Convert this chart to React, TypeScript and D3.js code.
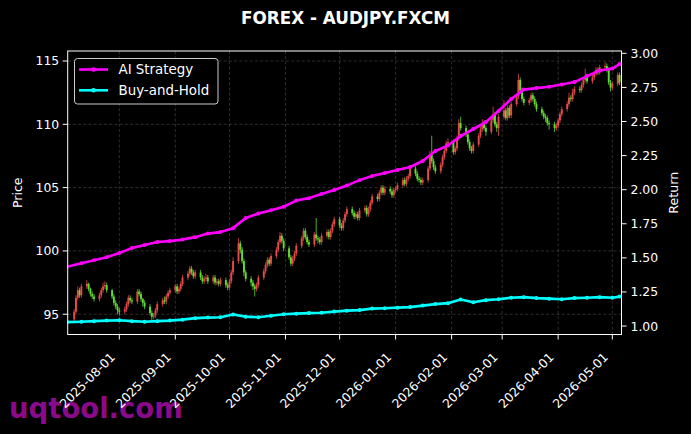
import React from 'react';
import * as d3 from 'd3';

const W = 691;
const H = 434;
const PLOT = { left: 67.7, right: 621.5, top: 51, bottom: 334.5 };

const TITLE = 'FOREX - AUDJPY.FXCM';
const WATERMARK = 'uqtool.com';

// trading days (weekdays) of the candles
const candleStart = '2025-07-07';
const candleEnd = '2026-05-05';
const firstOpen = 94.6;

const closes = [
  95.2, 96.3, 96.9, 96.5, 97.2, 97.4, 97.0, 96.6, 96.4,
  96.2, 96.5, 96.9, 97.2, 97.3, 96.9, 96.4, 95.9, 95.6, 95.3,
  95.2, 95.4, 95.8, 96.3, 96.1, 96.0, 96.8, 96.6, 96.2, 95.9,
  95.6, 95.1, 94.8, 94.9, 95.3, 95.8, 96.1, 96.0, 96.4, 96.7,
  96.9, 97.2, 96.8, 97.0, 97.4, 97.9, 98.2, 98.6, 98.3, 98.0,
  98.3, 97.9, 97.6, 97.8, 97.9, 97.6, 97.9, 97.5, 97.6, 97.4,
  97.7, 97.3, 97.1, 97.6, 98.3, 99.2, 100.6, 100.1, 99.2, 98.3,
  97.8, 97.5, 97.2, 97.0, 97.3, 97.9, 98.4, 98.9, 99.3, 99.0,
  99.6, 100.1, 100.7, 101.2, 100.8, 100.2, 99.5, 99.0, 99.4, 99.8,
  100.4, 101.0, 101.6, 101.1, 100.7, 100.5, 101.3, 101.0, 100.9, 100.7,
  101.2, 101.5, 101.1, 101.6, 102.1, 102.5, 102.0, 101.8, 102.4, 102.9,
  103.3, 103.0, 102.7, 102.9, 102.6, 103.2, 103.4, 102.9, 103.3, 103.8,
  104.3, 104.1, 104.6, 105.0, 104.6, 104.9, 104.7, 104.4, 104.8, 104.9,
  105.2, 105.6, 105.3, 105.7, 105.9, 106.5, 106.1, 105.7, 105.6, 105.4,
  105.6, 106.5, 107.6, 107.1, 106.6, 106.3, 106.8, 107.4, 107.9, 108.5,
  108.6, 107.8, 108.1, 108.9, 110.1, 109.7, 109.2, 108.6, 108.1, 107.9,
  108.4, 109.1, 109.6, 110.1, 109.7, 109.4, 110.3, 110.8, 110.0, 109.7,
  110.6, 111.1, 110.5, 111.3, 110.7, 111.6, 112.2, 113.5, 112.7, 112.0,
  111.7, 111.9, 112.3, 112.0, 111.6, 111.2, 110.9, 110.6, 110.5, 110.1,
  110.0, 109.7, 109.9, 110.3, 110.8, 111.2, 111.6, 112.1, 112.0, 112.5,
  112.8, 112.7, 113.1, 113.5, 113.8, 113.4, 113.7, 114.0, 114.3, 114.1,
  114.5, 114.6, 114.3, 113.3, 112.9, 113.2, 113.9, 113.3,
];

const highs = [
  95.4, 96.5, 97.2, 97.1, 97.4, 97.7, 97.5, 97.1, 96.8,
  96.6, 96.7, 97.1, 97.5, 97.6, 97.5, 97.0, 96.6, 96.1, 95.8,
  95.5, 95.6, 96.0, 96.5, 96.5, 96.3, 97.0, 97.0, 96.8, 96.3,
  96.1, 95.8, 95.3, 95.1, 95.5, 96.0, 96.3, 96.4, 96.6, 96.9,
  97.1, 97.4, 97.4, 97.2, 97.6, 98.1, 98.4, 98.8, 98.8, 98.5,
  98.5, 98.5, 98.1, 98.0, 98.2, 98.1, 98.1, 98.1, 97.8, 97.8,
  97.9, 97.9, 97.5, 97.8, 98.5, 99.5, 101.0, 100.8, 100.3, 99.4,
  98.5, 98.0, 97.7, 97.4, 97.5, 98.1, 98.6, 99.1, 99.5, 99.5,
  99.8, 100.3, 100.9, 101.5, 101.4, 101.0, 100.4, 99.7, 99.6, 100.0,
  100.6, 101.2, 101.8, 101.8, 101.3, 100.9, 101.5, 102.6, 101.2, 101.1,
  101.4, 101.7, 101.7, 101.8, 102.3, 102.7, 102.7, 102.2, 102.6, 103.1,
  103.5, 103.5, 103.2, 103.1, 103.1, 103.4, 103.6, 103.6, 103.5, 104.0,
  104.5, 104.5, 104.8, 105.2, 105.2, 105.1, 105.1, 104.9, 105.0, 105.1,
  105.4, 105.8, 105.8, 105.9, 106.1, 106.7, 106.7, 106.3, 105.9, 105.8,
  105.8, 106.7, 107.9, 109.1, 107.3, 106.8, 107.0, 107.6, 108.1, 108.7,
  108.9, 108.8, 108.3, 109.1, 110.4, 110.6, 109.9, 109.4, 108.8, 108.3,
  108.6, 109.3, 109.8, 110.4, 110.3, 109.9, 110.5, 111.4, 111.0, 110.2,
  110.8, 111.9, 111.3, 111.5, 111.5, 111.8, 112.4, 114.0, 113.7, 112.9,
  112.2, 112.1, 112.5, 112.5, 112.2, 111.8, 111.4, 111.1, 110.8, 110.7,
  110.3, 110.2, 110.1, 110.5, 111.0, 111.4, 111.8, 112.5, 112.3, 112.8,
  113.0, 113.0, 113.3, 113.7, 114.4, 114.0, 113.9, 114.2, 114.5, 114.5,
  114.7, 114.9, 114.8, 114.5, 113.5, 113.4, 114.1, 114.1,
];

const lows = [
  94.4, 95.0, 96.1, 96.3, 96.3, 97.0, 96.8, 96.4, 96.2,
  96.0, 96.0, 96.3, 96.7, 97.0, 96.7, 96.2, 95.7, 95.4, 95.0,
  94.9, 95.0, 95.2, 95.6, 95.9, 95.8, 95.8, 96.4, 96.0, 95.6,
  95.4, 94.9, 94.4, 94.6, 94.7, 95.1, 95.6, 95.8, 95.8, 96.2,
  96.5, 96.7, 96.6, 96.6, 96.8, 97.2, 97.7, 98.0, 98.1, 97.8,
  97.8, 97.7, 97.4, 97.4, 97.6, 97.4, 97.4, 97.3, 97.3, 97.2,
  97.2, 97.1, 96.9, 96.9, 97.4, 98.1, 99.0, 99.8, 99.0, 98.0,
  97.6, 97.2, 96.9, 96.4, 96.8, 97.1, 97.7, 98.2, 98.7, 98.8,
  98.8, 99.4, 99.9, 100.5, 100.6, 100.0, 99.3, 98.8, 98.8, 99.2,
  99.6, 100.2, 100.8, 100.9, 100.5, 100.3, 100.3, 100.8, 100.6, 100.5,
  100.5, 101.0, 100.9, 100.9, 101.4, 101.9, 101.8, 101.6, 101.6, 102.2,
  102.7, 102.8, 102.5, 102.5, 102.4, 102.4, 103.0, 102.7, 102.7, 103.1,
  103.6, 103.9, 103.9, 104.4, 104.4, 104.4, 104.5, 104.2, 104.2, 104.6,
  104.7, 105.0, 105.1, 105.1, 105.5, 105.7, 105.9, 105.5, 105.4, 105.2,
  105.2, 105.4, 106.3, 106.9, 106.4, 106.1, 106.1, 106.6, 107.2, 107.7,
  108.3, 107.6, 107.6, 107.9, 108.7, 109.5, 109.0, 108.4, 107.9, 107.7,
  107.7, 108.2, 108.9, 109.4, 109.5, 109.1, 109.2, 110.1, 109.8, 109.4,
  109.1, 110.4, 110.3, 110.3, 110.5, 110.5, 111.4, 112.0, 112.5, 111.8,
  111.5, 111.5, 111.7, 111.8, 111.4, 111.0, 110.7, 110.4, 110.2, 109.9,
  109.6, 109.4, 109.5, 109.7, 110.1, 110.6, 111.0, 111.4, 111.8, 111.8,
  112.3, 112.5, 112.5, 112.9, 113.3, 113.2, 113.2, 113.5, 113.8, 113.9,
  113.9, 114.3, 114.1, 113.1, 112.6, 112.7, 113.0, 113.1,
];

// return curves: first day, then weekly (Fridays), then last day
const lineStart = '2025-07-03';
const lineEnd = '2026-05-05';
const aiStrategy = [
  1.435, 1.461, 1.483, 1.505, 1.535, 1.572, 1.594, 1.616, 1.623, 1.634,
  1.652, 1.678, 1.689, 1.718, 1.792, 1.825, 1.850, 1.875, 1.920, 1.938,
  1.968, 1.997, 2.030, 2.070, 2.100, 2.122, 2.144, 2.166, 2.210, 2.283,
  2.324, 2.393, 2.445, 2.496, 2.577, 2.665, 2.734, 2.745, 2.755, 2.771,
  2.789, 2.833, 2.874, 2.888, 2.921,
];
const buyHold = [
  1.029, 1.032, 1.036, 1.040, 1.043, 1.036, 1.032, 1.036, 1.040, 1.047,
  1.058, 1.062, 1.065, 1.084, 1.069, 1.065, 1.076, 1.087, 1.091, 1.095,
  1.098, 1.106, 1.113, 1.117, 1.128, 1.131, 1.135, 1.139, 1.150, 1.161,
  1.168, 1.194, 1.175, 1.190, 1.197, 1.208, 1.212, 1.205, 1.201, 1.197,
  1.205, 1.208, 1.212, 1.208, 1.216,
];

const xTickLabels = [
  '2025-08-01', '2025-09-01', '2025-10-01', '2025-11-01', '2025-12-01',
  '2026-01-01', '2026-02-01', '2026-03-01', '2026-04-01', '2026-05-01',
];
const priceTicks = [95, 100, 105, 110, 115];
const returnTicks = [1.0, 1.25, 1.5, 1.75, 2.0, 2.25, 2.5, 2.75, 3.0];

const SERIES = [
  { name: 'AI Strategy', values: aiStrategy, color: '#ff00ff' },
  { name: 'Buy-and-Hold', values: buyHold, color: '#00ffff' },
];

const FONT = 'DejaVu Sans, Verdana, sans-serif';
const UP = '#ff5252';
const DOWN = '#6cf23c';

export default function App() {
  const dayAfterEnd = d3.utcDay.offset(new Date(candleEnd), 1);
  const dates = d3.utcDay
    .range(new Date(candleStart), dayAfterEnd)
    .filter((d) => d.getUTCDay() !== 0 && d.getUTCDay() !== 6);

  const candles = dates.map((date, i) => ({
    date,
    open: i === 0 ? firstOpen : closes[i - 1],
    close: closes[i],
    high: highs[i],
    low: lows[i],
  }));

  const lineDates = [
    new Date(lineStart),
    ...d3.utcFriday.range(d3.utcDay.offset(new Date(lineStart), 2), d3.utcDay.offset(new Date('2026-05-01'), 1)),
    new Date(lineEnd),
  ];

  const x = d3
    .scaleUtc()
    .domain([new Date('2025-07-03T10:00:00Z'), new Date('2026-05-06T02:00:00Z')])
    .range([PLOT.left, PLOT.right]);
  const yP = d3.scaleLinear().domain([93.4, 115.79]).range([PLOT.bottom, PLOT.top]);
  const yR = d3.scaleLinear().domain([0.938, 3.017]).range([PLOT.bottom, PLOT.top]);

  const xTicks = xTickLabels.map((s) => ({ label: s, date: new Date(s) }));

  const lineGen = (vals: number[]) =>
    d3
      .line<number>()
      .x((_, i) => x(lineDates[i]))
      .y((v) => yR(v))(vals) || '';

  const bodyW = 1.9;

  return (
    <div style={{ position: 'absolute', left: 0, top: 0, width: W, height: H, background: '#000' }}>
      <svg width={W} height={H} style={{ display: 'block', background: '#000' }} fontFamily={FONT}>
        <rect x={0} y={0} width={W} height={H} fill="#000" />
        {/* watermark */}
        <text x={9} y={418} fontSize={27.5} fontWeight="bold" fill="#8b0a8b">
          {WATERMARK}
        </text>

        <defs>
          <clipPath id="plotclip">
            <rect x={PLOT.left} y={PLOT.top} width={PLOT.right - PLOT.left} height={PLOT.bottom - PLOT.top} />
          </clipPath>
        </defs>

        {/* grid */}
        <g stroke="#8a8a8a" strokeOpacity={0.55} strokeWidth={0.6} strokeDasharray="3,2.2">
          {xTicks.map((t) => (
            <line key={t.label} x1={x(t.date)} x2={x(t.date)} y1={PLOT.top} y2={PLOT.bottom} />
          ))}
          {priceTicks.map((p) => (
            <line key={p} x1={PLOT.left} x2={PLOT.right} y1={yP(p)} y2={yP(p)} />
          ))}
        </g>

        {/* candles */}
        <g clipPath="url(#plotclip)">
          {candles.map((c, i) => {
            const cx = x(c.date);
            const col = c.close >= c.open ? UP : DOWN;
            const yTop = yP(Math.max(c.open, c.close));
            const yBot = yP(Math.min(c.open, c.close));
            return (
              <g key={i} opacity={0.9}>
                <line x1={cx} x2={cx} y1={yP(c.high)} y2={yP(c.low)} stroke={col} strokeWidth={0.8} />
                <rect x={cx - bodyW / 2} y={yTop} width={bodyW} height={Math.max(0.8, yBot - yTop)} fill={col} />
              </g>
            );
          })}
        </g>

        {/* return lines */}
        <g clipPath="url(#plotclip)">
          {SERIES.map((s) => (
            <g key={s.name}>
              <path d={lineGen(s.values)} fill="none" stroke={s.color} strokeWidth={2.6} strokeLinejoin="round" />
              {s.values.map((v, i) => (
                <circle key={i} cx={x(lineDates[i])} cy={yR(v)} r={2} fill={s.color} />
              ))}
            </g>
          ))}
        </g>

        {/* spines */}
        <rect
          x={PLOT.left}
          y={PLOT.top}
          width={PLOT.right - PLOT.left}
          height={PLOT.bottom - PLOT.top}
          fill="none"
          stroke="#fff"
          strokeWidth={1}
        />

        {/* left axis */}
        <g fill="#fff" fontSize={12.4}>
          {priceTicks.map((p) => (
            <g key={p}>
              <line x1={PLOT.left - 5} x2={PLOT.left} y1={yP(p)} y2={yP(p)} stroke="#fff" strokeWidth={1} />
              <text x={PLOT.left - 8.5} y={yP(p)} dy="0.36em" textAnchor="end">
                {p}
              </text>
            </g>
          ))}
        </g>
        <text
          transform={`translate(21.5, ${(PLOT.top + PLOT.bottom) / 2}) rotate(-90)`}
          textAnchor="middle"
          fill="#fff"
          fontSize={12.6}
        >
          Price
        </text>

        {/* right axis */}
        <g fill="#fff" fontSize={12.4}>
          {returnTicks.map((r) => (
            <g key={r}>
              <line x1={PLOT.right} x2={PLOT.right + 5} y1={yR(r)} y2={yR(r)} stroke="#fff" strokeWidth={1} />
              <text x={PLOT.right + 9} y={yR(r)} dy="0.36em" textAnchor="start">
                {r.toFixed(2)}
              </text>
            </g>
          ))}
        </g>
        <text
          transform={`translate(678, ${(PLOT.top + PLOT.bottom) / 2}) rotate(-90)`}
          textAnchor="middle"
          fill="#fff"
          fontSize={12.6}
        >
          Return
        </text>

        {/* bottom axis */}
        <g fill="#fff" fontSize={12.4}>
          {xTicks.map((t) => {
            const tx = x(t.date);
            return (
              <g key={t.label}>
                <line x1={tx} x2={tx} y1={PLOT.bottom} y2={PLOT.bottom + 5} stroke="#fff" strokeWidth={1} />
                <text transform={`translate(${tx - 3.5}, 358) rotate(-45)`} textAnchor="end">
                  {t.label}
                </text>
              </g>
            );
          })}
        </g>

        {/* title */}
        <text x={W / 2} y={24} textAnchor="middle" fill="#fff" fontSize={16.8} fontWeight="bold">
          {TITLE}
        </text>

        {/* legend */}
        <g>
          <rect x={74.5} y={58.5} width={143.5} height={45.5} rx={3} fill="#000" fillOpacity={0.8} stroke="#cccccc" strokeWidth={1} />
          {SERIES.map((s, i) => {
            const ly = 69.5 + i * 20.8;
            return (
              <g key={s.name}>
                <line x1={79} x2={108} y1={ly} y2={ly} stroke={s.color} strokeWidth={2.6} />
                <circle cx={93.5} cy={ly} r={2.3} fill={s.color} />
                <text x={118.5} y={ly} dy="0.36em" fill="#fff" fontSize={13.4}>
                  {s.name}
                </text>
              </g>
            );
          })}
        </g>
      </svg>
    </div>
  );
}
